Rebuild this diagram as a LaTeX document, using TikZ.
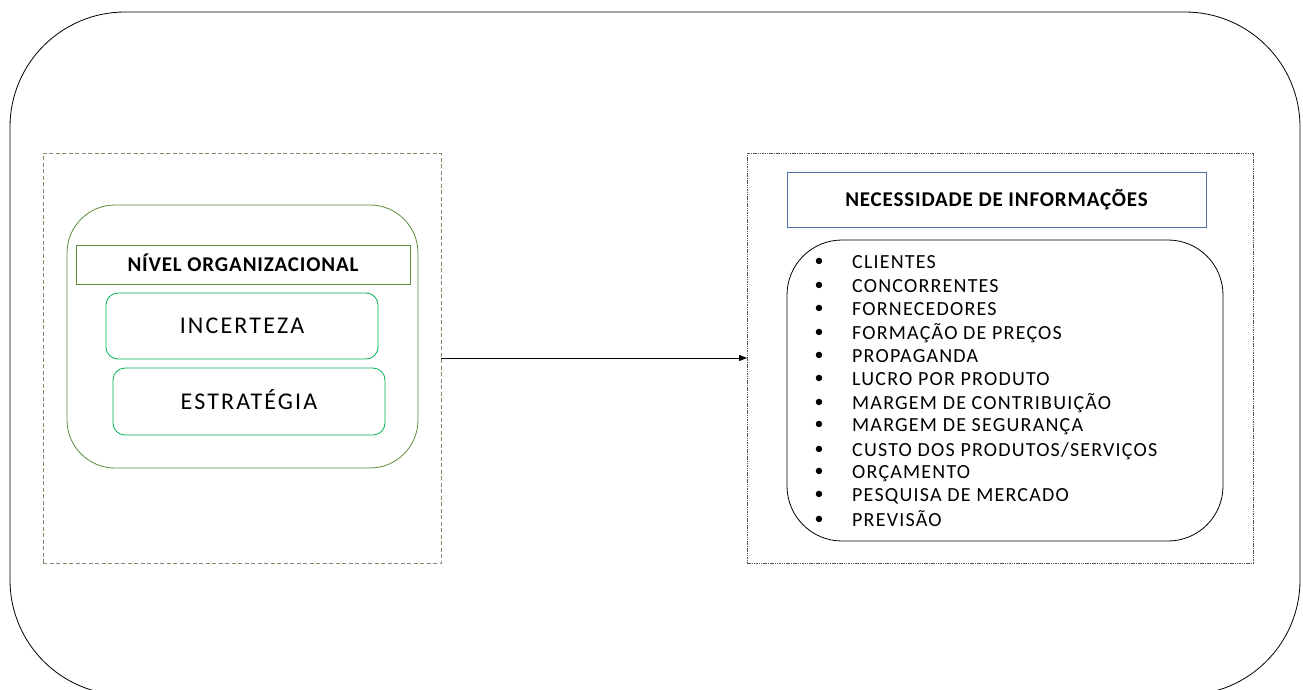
\documentclass[tikz,border=0pt]{standalone}
\usepackage{fontspec}
\setmainfont{Carlito}
\newfontfamily\listfont[LetterSpace=6]{Carlito}
\newfontfamily\wideboxfont[LetterSpace=9]{Carlito}
\newfontfamily\titlefont[LetterSpace=4]{Carlito}
\usetikzlibrary{arrows.meta}
\definecolor{dashgreen}{HTML}{7D8F6A}
\definecolor{olive}{HTML}{5B8A3A}
\definecolor{brightgreen}{HTML}{00B050}
\definecolor{slate}{HTML}{4F6FA8}
\definecolor{dotgrey}{HTML}{555555}
\tikzset{
  box/.style={draw, inner sep=0pt, outer sep=0pt, line width=0.8pt},
  listtext/.style={font=\listfont\fontsize{20}{22}\selectfont, anchor=base west, inner sep=0pt},
  bul/.style={font=\fontsize{18}{20}\selectfont, inner sep=0pt},
  titletext/.style={font=\titlefont\bfseries\fontsize{21}{23}\selectfont},
  boxtext/.style={font=\wideboxfont\fontsize{24}{27}\selectfont},
}
\begin{document}
\begin{tikzpicture}[x=1pt,y=-1pt]
\useasboundingbox (0,0) rectangle (1303,689);
\clip (0,0) rectangle (1303,689);
% outer frame
\node[box, draw=black, rounded corners=115pt, minimum width=1290pt, minimum height=683pt] (outer) at (655,353.5) {};
% left dashed box
\node[box, draw=dashgreen, dashed, dash pattern=on 4pt off 2.5pt, minimum width=398pt, minimum height=410pt] (left) at (242,358) {};
\node[box, draw=olive, rounded corners=48pt, minimum width=351pt, minimum height=263pt] (green) at (242.5,336.5) {};
\node[box, draw=olive, minimum width=334pt, minimum height=39pt] (title) at (243,264.5) {};
\node[titletext, inner sep=0pt, anchor=base] (titlet) at (243,271.5) {NÍVEL ORGANIZACIONAL};
\node[box, draw=brightgreen, rounded corners=12pt, minimum width=272pt, minimum height=66pt] (inc) at (242,326) {};
\node[boxtext, inner sep=0pt, anchor=base] (inct) at (242,333.5) {INCERTEZA};
\node[box, draw=brightgreen, rounded corners=12pt, minimum width=272pt, minimum height=67pt] (est) at (249,401.5) {};
\node[boxtext, inner sep=0pt, anchor=base] (estt) at (249,409.5) {ESTRATÉGIA};
% right dotted box
\node[box, draw=dotgrey, dash pattern=on 1.5pt off 0.8pt, line width=0.7pt, minimum width=506pt, minimum height=410pt] (right) at (1000,358) {};
\node[box, draw=slate, minimum width=419pt, minimum height=55pt] (need) at (996.5,199.5) {};
\node[titletext, inner sep=0pt, anchor=base] (needt) at (996.5,206) {NECESSIDADE DE INFORMAÇÕES};
\node[box, draw=black, rounded corners=55pt, minimum width=436pt, minimum height=301pt] (list) at (1005,390.5) {};
% list
\foreach \y/\t [count=\i] in {262/{CLIENTES},286/{CONCORRENTES},309/{FORNECEDORES},333/{FORMAÇÃO DE PREÇOS},356/{PROPAGANDA},379/{LUCRO POR PRODUTO},403/{MARGEM DE CONTRIBUIÇÃO},425/{MARGEM DE SEGURANÇA},450/{CUSTO DOS PRODUTOS/SERVIÇOS},472/{ORÇAMENTO},495/{PESQUISA DE MERCADO},520/{PREVISÃO}}{
  \node[bul] (b\i) at (819,\y) {•};
  \node[listtext] (t\i) at (852,\y+6.5) {\t};
}
% arrow
\draw[-{Triangle[length=8pt,width=6pt]}, line width=0.8pt] (left.east) -- (right.west);
\end{tikzpicture}
\end{document}
